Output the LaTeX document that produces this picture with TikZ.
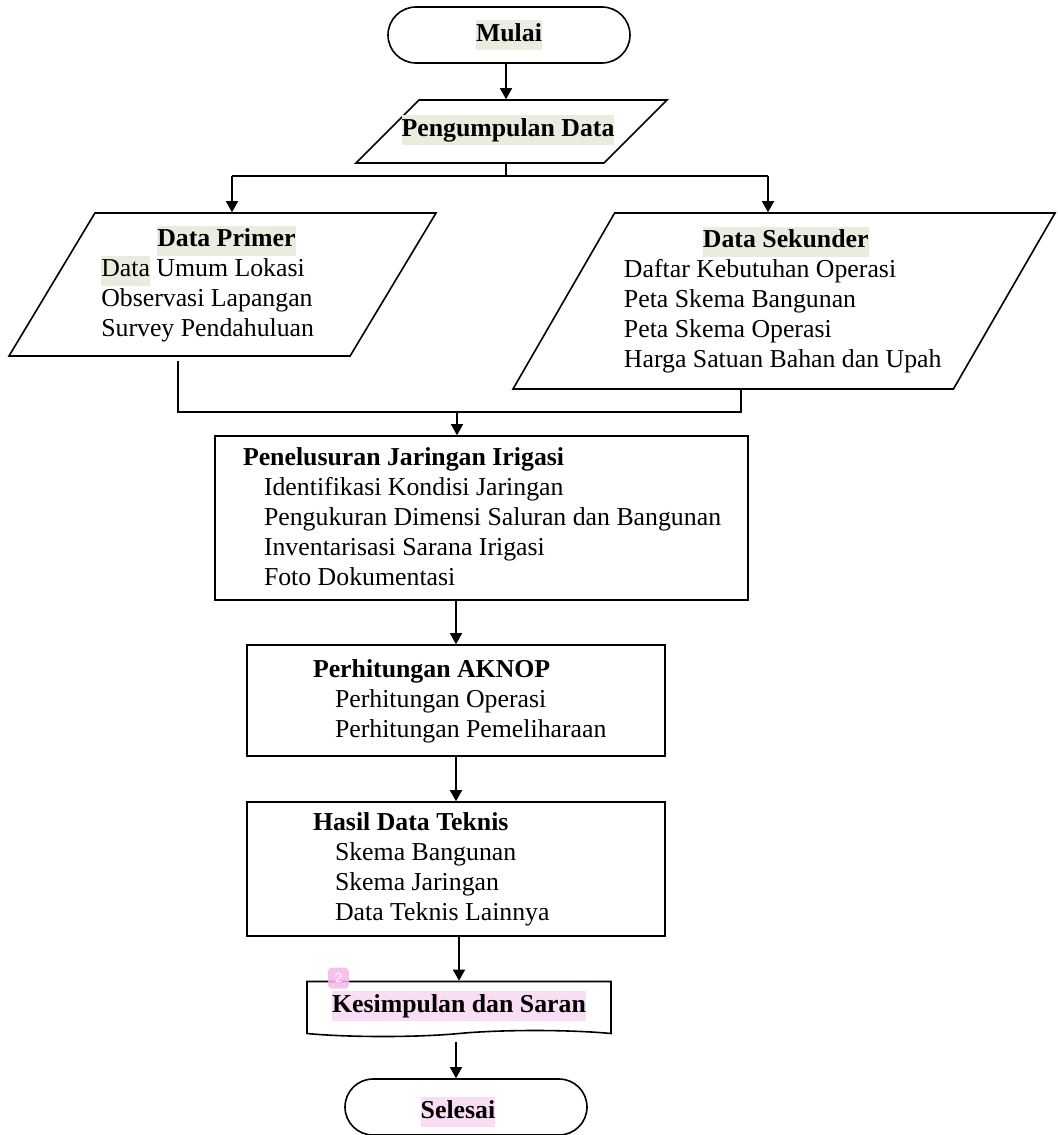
\documentclass[tikz,border=0pt]{standalone}
\usepackage{fontspec}
\setmainfont{Liberation Serif}
\usetikzlibrary{shapes.geometric,shapes.misc,shapes.symbols,arrows.meta}

\definecolor{hlgreen}{HTML}{E9EDE0}
\definecolor{hlpink}{HTML}{F9DDF4}
\definecolor{notepink}{HTML}{F5B5EC}

\newcommand{\hlg}[1]{{\setlength{\fboxsep}{0pt}\colorbox{hlgreen}{\strut#1}}}
\newcommand{\hlp}[1]{{\setlength{\fboxsep}{0pt}\colorbox{hlpink}{\strut#1}}}

\begin{document}
\begin{tikzpicture}[x=0.5pt,y=-0.5pt,font=\fontsize{12.9}{15}\selectfont,line width=0.8pt,
    >={Triangle[length=5.5pt,width=6pt]}]
    \tikzset{
        terminal/.style={
            draw, rounded rectangle, inner sep=0pt,
            minimum width=121pt, minimum height=28pt,
            font=\fontsize{12.9}{15}\selectfont\bfseries
        },
        iobox/.style={
            draw, trapezium, trapezium stretches body, inner xsep=0pt, inner ysep=#1
        },
        procbox/.style={draw, rectangle, inner sep=0pt, minimum width=#1},
        docbox/.style={
            draw, tape, tape bend top=none, tape bend bottom=in and out,
            tape bend height=3pt, inner sep=0pt,
            minimum width=152pt, minimum height=27.5pt,
            font=\fontsize{12.9}{15}\selectfont\bfseries
        },
        txt/.style={align=left, inner sep=0pt, anchor=north west, execute at begin node=\strut},
        boldtxt/.style={inner sep=0pt, font=\fontsize{12.9}{15}\selectfont\bfseries},
        notebadge/.style={
            fill=notepink, opacity=0.85, text=white, text opacity=1, rounded corners=2pt,
            minimum size=10.5pt, inner sep=0pt, font=\sffamily\scriptsize
        }
    }

    \useasboundingbox (0,0) rectangle (1057,1135);

    % start and input
    \node[terminal] (mulai) at (509,35) {\hlg{Mulai}};
    \node[iobox=15.75pt, trapezium left angle=45, trapezium right angle=135,
        minimum width=155.5pt] (kumpul) at (511.5,131.5) {};
    \node[boldtxt] (kumpulTxt) at (508,130) {\hlg{Pengumpulan Data}};

    \node[iobox=35.75pt, trapezium left angle=59, trapezium right angle=121,
        minimum width=213.5pt] (primer) at (222.5,284.5) {};
    \node[iobox=44pt, trapezium left angle=60, trapezium right angle=120,
        minimum width=271pt] (sekunder) at (784,301) {};
    \node[txt] (primerTxt) at ([xshift=3pt,yshift=-6.3pt] primer.top left corner)
        {\hspace*{28pt}\hlg{\textbf{Data Primer}}\\
         \hlg{Data} Umum Lokasi\\
         Observasi Lapangan\\
         Survey Pendahuluan};
    \node[txt] (sekunderTxt) at ([xshift=4.5pt,yshift=-6.8pt] sekunder.top left corner)
        {\hspace*{39.5pt}\hlg{\textbf{Data Sekunder}}\\
         Daftar Kebutuhan Operasi\\
         Peta Skema Bangunan\\
         Peta Skema Operasi\\
         Harga Satuan Bahan dan Upah};

    % process boxes
    \node[procbox=266.5pt, minimum height=82pt] (penel) at (481.5,518) {};
    \node[txt] (penelTxt) at ([xshift=14pt,yshift=-5.8pt] penel.north west)
        {\textbf{Penelusuran Jaringan Irigasi}\\
         \hspace*{10.5pt}Identifikasi Kondisi Jaringan\\
         \hspace*{10.5pt}Pengukuran Dimensi Saluran dan Bangunan\\
         \hspace*{10.5pt}Inventarisasi Sarana Irigasi\\
         \hspace*{10.5pt}Foto Dokumentasi};

    \node[procbox=209pt, minimum height=55.5pt] (hitung) at (456,700.5) {};
    \node[txt] (hitungTxt) at ([xshift=33pt,yshift=-7.3pt] hitung.north west)
        {\textbf{Perhitungan AKNOP}\\
         \hspace*{11pt}Perhitungan Operasi\\
         \hspace*{11pt}Perhitungan Pemeliharaan};

    \node[procbox=209pt, minimum height=67pt] (hasil) at (456,869) {};
    \node[txt] (hasilTxt) at ([xshift=33pt,yshift=-5.3pt] hasil.north west)
        {\textbf{Hasil Data Teknis}\\
         \hspace*{11pt}Skema Bangunan\\
         \hspace*{11pt}Skema Jaringan\\
         \hspace*{11pt}Data Teknis Lainnya};

    % output and end
    \node[docbox] (simpulan) at (459,1006) {\hlp{Kesimpulan dan Saran}};
    \node[notebadge] (note) at (338.5,978) {2};
    \node[terminal] (selesai) at (466,1107) {};
    \node[boldtxt] (selesaiTxt) at (458,1112) {\hlp{Selesai}};

    \coordinate (split) at (506,176);
    \coordinate (toPrimer) at (232,176);
    \coordinate (toSekunder) at (768,176);
    \coordinate (joinL) at (178,412);
    \coordinate (joinR) at (741,412);
    \coordinate (join) at (457,412);
    \coordinate (endArrow) at (456,1042);

    \draw[->] (mulai.south -| split) -- (kumpul.north -| split);
    \draw (kumpul.south -| split) -- (split);
    \draw (toPrimer) -- (toSekunder);
    \draw[->] (toPrimer) -- (toPrimer |- primer.north);
    \draw[->] (toSekunder) -- (toSekunder |- sekunder.north);
    \draw ([yshift=-2pt] joinL |- primer.south) -- (joinL) -- (joinR) -- (joinR |- sekunder.south);
    \draw[->] (join) -- (join |- penel.north);
    \draw[->] (penel.south -| hitung) -- (hitung.north);
    \draw[->] (hitung) -- (hasil);
    \draw[->] (hasil.south -| simpulan) -- (simpulan.north);
    \draw[->] (endArrow) -- (endArrow |- selesai.north);
\end{tikzpicture}
\end{document}
